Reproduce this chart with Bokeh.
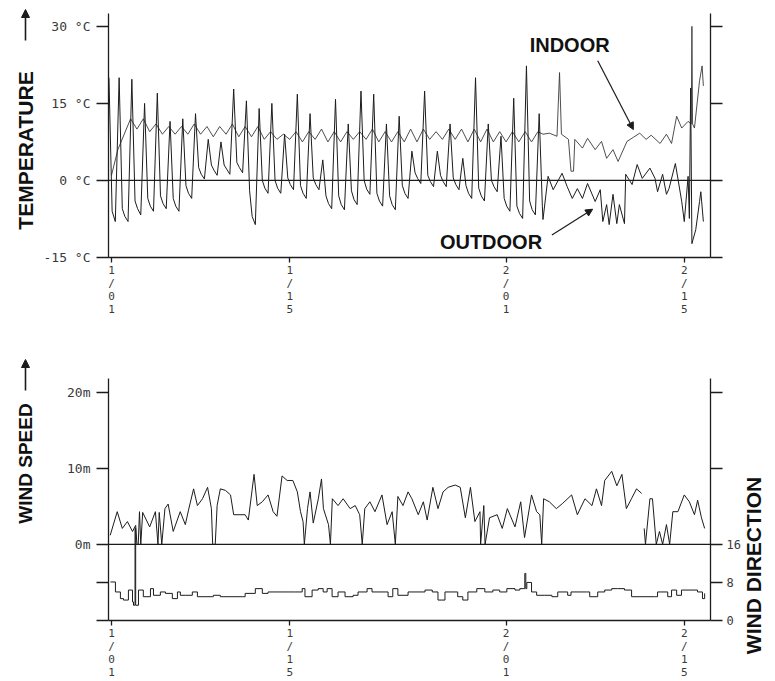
import numpy as np
from bokeh.plotting import figure
from bokeh.models import Range1d, LinearAxis, FixedTicker, Label, Arrow, NormalHead, Span
from bokeh.layouts import column, row
from bokeh.core.properties import value
from bokeh.embed import file_html
from bokeh.resources import INLINE

# ---------------- data (x = days since Jan 1) ----------------
X_TICKS = [0, 14, 31, 45]
X_TICK_LABELS = ["1/01", "1/15", "2/01", "2/15"]

# outdoor temperature, days 0..33: night, morning low, afternoon high, evening
OUT_NIGHT = [-6, -7, -5.5, -5, -4.5, -5, -2.5, 1.2, 2, 2.2, 2.5, -7, -1.5, -1.5, -0.8, -2.5, -0.8,
             -4.5, -4.7, -3.7, -1.7, -4, -4.7, -2.5, 0.4, -0.2, -0.2, -0.8, -2.5, -3, -1.2, -5, -6.4, -5.7]
OUT_LOW = [-8, -8, -6.7, -6, -5.5, -6, -3.5, 0.3, 1, 1.2, 1.5, -8.6, -2.5, -2.5, -1.8, -3.5, -1.8,
           -5.5, -5.7, -4.7, -2.7, -5, -5.7, -3.5, -0.6, -1.2, -1.2, -1.8, -3.5, -4, -2.2, -6, -7.4, -6.7]
OUT_HIGH = [20, 19.7, 15, 17, 11.5, 12, 13, 8, 7.5, 17.8, 15.5, 14, 15, 9, 16.8, 13, 4,
            15.8, 11, 17.4, 16.8, 11, 12.5, 5.7, 17.4, 5.7, 11, 4.3, 20, 11, 8.6, 16, 22.3, 13]
OUT_EVE = [-5.5, -4, -3.5, -3, -3.5, -1, 2.5, 3, 3, 3.5, -2, 0, 0, 0.5, -1, 0.5, -3,
           -3, -2, 0, -2.5, -3, -1, 1.5, 1, 1, 0.5, -1, -1.5, 0, -3.5, -5, -4, -5]
# outdoor temperature, last two weeks (irregular readings)
OUT_LATE_T = [33.9, 34.3, 34.7, 35.4, 35.8, 36.2, 36.6, 37.0, 37.4, 38.0, 38.4, 38.6, 38.9, 39.1, 39.4,
              39.7, 39.9, 40.3, 40.4, 40.9, 41.3, 41.7, 42.3, 42.7, 42.9, 43.3, 43.6, 43.8, 44.3, 44.8,
              45.0, 45.3, 45.4, 45.5, 45.6, 45.9, 46.2, 46.3, 46.5]
OUT_LATE_V = [-7.6, 0.8, -1.8, 1.4, -1.2, -3.5, -1.6, -3.5, -0.6, -4.1, -1.8, -8, -4.7, -8.6, -2.7,
              -8.4, -4.7, -8.4, 1.2, -0.8, 3.1, 0.4, 2.4, 0.4, -2.2, 1.2, -2.7, -1.6, 3.3, -4.1,
              -8, 0.8, -7.4, 18, -12.3, -9.6, -4.1, -2.2, -8]

# indoor temperature, half-day readings days 0..33.5
IN_EARLY = [1, 6, 9, 12, 10, 12, 9.5, 11, 9, 10.5, 9, 10.5, 9, 11, 9, 10.5, 8.5, 10.5, 9, 11,
            8.5, 10.5, 8.5, 10.5, 8, 9.5, 8, 9, 8, 9.5, 7.5, 9.5, 8, 10, 7.5, 9.5, 7.5, 9.5,
            8, 9.5, 8, 10, 7.5, 9.5, 7.5, 9.5, 7.5, 10, 7.5, 10, 8, 9.5, 8, 10, 8, 10,
            7.5, 10, 7.5, 10, 7.5, 9.5, 7.5, 9.5, 7.5, 9.5, 7.5, 9.5]
IN_LATE_T = [33.9, 34.4, 35.0, 35.2, 35.35, 35.9, 36.1, 36.3, 36.4, 37.0, 37.4, 38.0, 38.5, 38.9,
             39.4, 39.8, 40.5, 41.0, 41.5, 42.0, 42.4, 43.1, 43.6, 44.0, 44.4, 44.8, 45.3, 45.55,
             45.6, 45.65, 45.8, 46.2, 46.4, 46.5]
IN_LATE_V = [9, 9.2, 8.6, 21, 9, 8, 1.8, 1.8, 8, 6.3, 8.2, 6, 7.6, 4.3,
             6, 3.7, 7.6, 8.4, 9.2, 8, 8.8, 7.2, 9, 7.2, 12.5, 10.2, 11.5, 11,
             30, 11, 10.2, 19.4, 22.3, 18.4]

# wind speed (m/s)
WS_T = [-0.1, 0.45, 0.85, 1.25, 1.65, 1.9, 2.0, 2.1, 2.2, 2.3, 2.45, 3.0, 3.45, 3.65, 3.75, 3.95,
        4.2, 4.45, 4.85, 5.4, 5.8, 6.05, 6.45, 6.75, 7.15, 7.55, 7.85, 7.95, 8.15, 8.3, 8.55, 8.95,
        9.35, 9.6, 10.5, 10.75, 11.2, 11.45, 11.85, 12.3, 12.7, 13.0, 13.4, 13.8, 14.25, 14.6,
        14.85, 15.05, 15.15, 15.4, 15.6, 15.85, 16.25, 16.5, 16.65, 17.05, 17.2, 17.35, 17.8,
        18.2, 18.75, 19.15, 19.5, 19.7, 19.9, 20.3, 20.7, 21.25, 21.65, 22.05, 22.3, 22.5, 22.9,
        23.3, 23.6, 24.1, 24.5, 24.8, 25.25, 25.65, 26.05, 26.45, 27.0, 27.4, 27.8, 28.2, 28.55,
        28.95, 29.0, 29.25, 29.35, 29.7, 30.3, 30.7, 31.1, 31.7, 32.15, 32.45, 33.0, 33.4, 33.65,
        33.8, 33.95, 34.4, 34.95, 35.45, 36.15, 36.6, 37.2, 37.75, 38.1, 38.5, 38.75, 39.3, 39.7,
        40.1, 40.45, 40.85, 41.25, 41.65, 41.75, 41.85, 41.95, 42.3, 42.5, 42.8, 43.05, 43.3,
        43.6, 43.85, 44.1, 44.5, 45.0, 45.4, 45.8, 46.05, 46.35, 46.6]
WS_V = [1.2, 4.3, 2.1, 3.0, 1.7, 2.5, 0, 0, 4.3, 0, 4.2, 2.3, 4.3, 0, 4.2, 0,
        4.7, 5.3, 1.7, 4.3, 2.6, 4.5, 7.3, 5.1, 6.0, 7.5, 4.7, 0, 0, 5.1, 7.3, 7.1,
        6.5, 3.9, 3.9, 3.2, 9.2, 5.1, 5.6, 6.5, 4.3, 3.7, 9.0, 8.4, 8.4, 6.9,
        4.3, 3.0, 0, 4.7, 6.9, 2.8, 6.0, 8.6, 4.7, 2.6, 0, 6.0, 5.1,
        6.0, 4.7, 5.1, 3.9, 0, 4.7, 5.6, 4.3, 6.5, 2.6, 4.3, 0, 6.3, 5.1,
        6.9, 6.0, 3.9, 5.6, 3.2, 7.5, 4.7, 6.9, 7.5, 7.8, 7.5, 3.5, 7.5, 3.0,
        4.3, 0, 5.1, 0, 3.5, 3.9, 2.1, 4.7, 2.3, 5.6, 0.9, 6.5, 4.3, 3.9,
        0, 6.0, 5.6, 4.7, 5.4, 6.5, 3.9, 6.0, 5.1, 7.3, 5.1, 8.4, 9.6, 7.7,
        9.2, 4.7, 6.0, 7.3, 6.7, np.nan, 2.1, 0, 6.0, 6.0, 0, 1.7, 0,
        2.6, 0, 4.3, 4.3, 6.5, 5.6, 3.9, 5.8, 3.5, 2.1]

# wind direction (compass sector, 0..16)
WD_T = [-0.08, 0.31, 0.7, 0.94, 1.33, 1.65, 1.73, 1.8, 1.85, 1.9, 2.12, 2.5, 3.06, 3.3, 3.84, 4.24,
        4.78, 5.18, 5.41, 5.8, 6.35, 6.75, 7.92, 8.0, 8.55, 10.27, 10.5, 11.3, 11.85, 12.3, 14.43,
        14.98, 15.2, 15.76, 16.24, 16.63, 16.94, 17.33, 17.8, 18.35, 18.98, 19.37, 20.08, 20.47,
        21.5, 21.73, 22.1, 22.5, 23.3, 23.84, 24.63, 25.2, 25.65, 26.2, 26.75, 27.2, 27.6, 28.0,
        28.7, 29.33, 29.96, 30.5, 31.06, 31.7, 32.08, 32.4, 32.47, 32.55, 32.63, 33.0, 33.4, 34.04,
        34.6, 35.06, 35.84, 36.1, 37.33, 37.57, 38.2, 38.75, 39.3, 39.76, 40.3, 40.86, 42.67,
        42.9, 43.7, 44.0, 44.4, 44.78, 46.04, 46.43, 46.6]
WD_V = [8.1, 6.0, 4.6, 4.3, 6.4, 3.9, 3.2, 3.2, 19.4, 3.2, 6.4, 5.0, 6.7, 5.3, 6.0, 5.7,
        4.6, 6.0, 5.3, 5.3, 6.0, 5.0, 5.0, 5.3, 5.0, 5.0, 5.7, 6.7, 5.7, 6.0, 6.0,
        6.7, 5.0, 6.4, 6.7, 6.0, 6.7, 5.0, 6.0, 5.0, 5.3, 6.0, 6.7, 6.0,
        6.0, 5.0, 6.7, 5.3, 6.0, 6.0, 6.4, 6.0, 4.3, 6.0, 6.0, 5.0, 4.3, 6.0,
        6.7, 6.0, 6.4, 6.0, 6.7, 6.4, 6.7, 6.7, 9.9, 6.7, 8.0, 6.0, 5.3, 5.3,
        5.0, 6.0, 5.3, 6.0, 6.0, 5.0, 6.0, 6.4, 6.7, 6.7, 6.4, 5.0, 5.0,
        6.0, 5.0, 6.4, 5.3, 6.4, 6.0, 4.6, 5.7]

TEMP_TICKS = [30, 15, 0, -15]
TEMP_LABELS = ["30 °C", "15 °C", "0 °C", "-15 °C"]
SPEED_TICKS = [20, 10, 0, -5, -10]
SPEED_LABELS = ["20m", "10m", "0m", "", ""]
DIR_TICKS = [0, 8, 16, 32, 48]
DIR_LABELS = ["0", "8", "16", "", ""]

# ---------------- build series ----------------
out_t = [-0.2]
out_v = [20]
for d in range(len(OUT_LOW)):
    out_t += [d + 0.05, d + 0.3, d + 0.6, d + 0.85]
    out_v += [OUT_NIGHT[d], OUT_LOW[d], OUT_HIGH[d], OUT_EVE[d]]
out_t += OUT_LATE_T
out_v += OUT_LATE_V

in_t = [0.5 * i for i in range(len(IN_EARLY))] + IN_LATE_T
in_v = IN_EARLY + IN_LATE_V

INK = "#1c1c1c"
TICK_FONT = "DejaVu Sans Mono"
BOLD_FONT = "Liberation Sans"
XR = (-0.235, 47.06)
PAGE_H = 681
TOP_H = 326
LEFT_W = 40
MAIN_W = 703
RIGHT_W = 775 - LEFT_W - MAIN_W


def stacked(s):
    return "\n".join(list(s))


def style_axis(ax, ticks, labels, tick_out=12, font_size="13px", standoff=6):
    ax.ticker = FixedTicker(ticks=ticks)
    ax.major_label_overrides = {t: l for t, l in zip(ticks, labels)}
    ax.major_tick_out = tick_out
    ax.major_tick_in = 0
    ax.minor_tick_out = 0
    ax.minor_tick_in = 0
    ax.axis_line_color = INK
    ax.axis_line_width = 1.3
    ax.major_tick_line_color = INK
    ax.major_tick_line_width = 1.3
    ax.major_label_text_font = TICK_FONT
    ax.major_label_text_font_size = font_size
    ax.major_label_text_color = "#3a3a3a"
    ax.major_label_standoff = standoff


def style_xaxis(ax):
    style_axis(ax, X_TICKS, [stacked(s) for s in X_TICK_LABELS], tick_out=5, font_size="11px", standoff=1)
    ax.major_label_text_line_height = 1.0


def side_figure(width, x0):
    f = figure(width=width, height=PAGE_H, x_range=Range1d(x0, x0 + width), y_range=Range1d(0, PAGE_H),
               output_backend="svg", toolbar_location=None, x_axis_type=None, y_axis_type=None,
               min_border=0)
    f.grid.visible = False
    f.outline_line_color = None
    return f


# ---------------- top chart: temperature ----------------
p1 = figure(width=MAIN_W, height=TOP_H, x_range=Range1d(*XR), y_range=Range1d(-15, 32.5),
            output_backend="svg", toolbar_location=None,
            min_border_left=68, min_border_right=32, min_border_top=13, min_border_bottom=69)
p1.grid.visible = False
p1.outline_line_color = None
style_xaxis(p1.xaxis[0])
style_axis(p1.yaxis[0], TEMP_TICKS, TEMP_LABELS)
r1 = LinearAxis()
p1.add_layout(r1, "right")
style_axis(r1, TEMP_TICKS, ["", "", "", ""], standoff=4)

p1.add_layout(Span(location=0, dimension="width", line_color=INK, line_width=1.3))
p1.line(in_t, in_v, line_color="#3a3a3a", line_width=0.9)
p1.line(out_t, out_v, line_color=INK, line_width=1.0)

p1.add_layout(Label(x=32.85, y=26.3, text="INDOOR", text_font=BOLD_FONT, text_font_style="bold",
                    text_font_size="20px", text_color="#111111", text_baseline="middle"))
p1.add_layout(Label(x=25.8, y=-11.9, text="OUTDOOR", text_font=BOLD_FONT, text_font_style="bold",
                    text_font_size="20px", text_color="#111111", text_baseline="middle"))
p1.add_layout(Arrow(end=NormalHead(size=7, fill_color=INK, line_color=INK),
                    x_start=38.2, y_start=23.3, x_end=41.0, y_end=9.9, line_color=INK, line_width=1.2))
p1.add_layout(Arrow(end=NormalHead(size=7, fill_color=INK, line_color=INK),
                    x_start=34.6, y_start=-10.6, x_end=37.8, y_end=-5.6, line_color=INK, line_width=1.2))

# ---------------- bottom chart: wind ----------------
p2 = figure(width=MAIN_W, height=PAGE_H - TOP_H, x_range=Range1d(*XR), y_range=Range1d(-10, 21.8),
            output_backend="svg", toolbar_location=None,
            min_border_left=68, min_border_right=32, min_border_top=52, min_border_bottom=59)
p2.extra_y_ranges = {"dir": Range1d(0, 50.88)}
p2.grid.visible = False
p2.outline_line_color = None
style_xaxis(p2.xaxis[0])
style_axis(p2.yaxis[0], SPEED_TICKS, SPEED_LABELS)
r2 = LinearAxis(y_range_name="dir")
p2.add_layout(r2, "right")
style_axis(r2, DIR_TICKS, DIR_LABELS, font_size="12px", standoff=4)

p2.add_layout(Span(location=0, dimension="width", line_color=INK, line_width=1.3))
p2.line(WS_T, WS_V, line_color=INK, line_width=1.0)
p2.step(WD_T, WD_V, mode="after", y_range_name="dir", line_color=INK, line_width=1.0)

# ---------------- side panels with the rotated axis titles ----------------
pl = side_figure(LEFT_W, 0)
pl.text(x=[25], y=[PAGE_H - 150], text=["TEMPERATURE"],
        angle=np.pi / 2, text_font=value(BOLD_FONT), text_font_style="bold",
        text_font_size="21px", text_color="#111111", text_align="center", text_baseline="middle")
pl.text(x=[25], y=[PAGE_H - 463], text=["WIND SPEED"],
        angle=np.pi / 2, text_font=value(BOLD_FONT), text_font_style="bold",
        text_font_size="19px", text_color="#111111", text_align="center", text_baseline="middle")
for y0, y1 in [(PAGE_H - 40, PAGE_H - 9), (PAGE_H - 390, PAGE_H - 359)]:
    pl.add_layout(Arrow(end=NormalHead(size=8, fill_color=INK, line_color=INK),
                        x_start=25, y_start=y0, x_end=25, y_end=y1, line_color=INK, line_width=1.6))

x0r = LEFT_W + MAIN_W
pr = side_figure(RIGHT_W, x0r)
pr.text(x=[753], y=[PAGE_H - 565], text=["WIND DIRECTION"], angle=np.pi / 2,
        text_font=value(BOLD_FONT), text_font_style="bold", text_font_size="21px",
        text_color="#111111", text_align="center", text_baseline="middle")

layout = row(pl, column(p1, p2, spacing=0), pr, spacing=0)
open("out.html", "w").write(file_html(layout, INLINE))
